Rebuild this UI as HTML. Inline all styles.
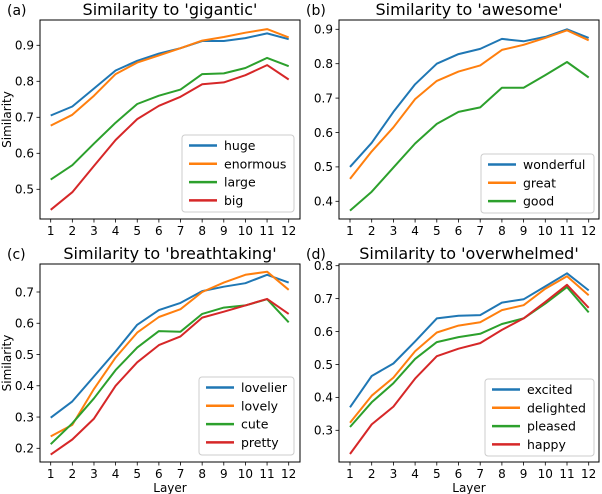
<!DOCTYPE html>
<html><head><meta charset="utf-8"><style>
body{margin:0;background:#fff;}
svg{display:block;font-family:"DejaVu Sans","Liberation Sans",sans-serif;}
</style></head><body>
<svg id="fig" width="602" height="494" viewBox="0 0 602 494" xmlns="http://www.w3.org/2000/svg"></svg>
<script>
const layers = [1,2,3,4,5,6,7,8,9,10,11,12];
const colors = ['#1f77b4','#ff7f0e','#2ca02c','#d62728'];
const namesA = ['huge','enormous','large','big'];
const hugeVals = [.705,.73,.78,.83,.857,.877,.892,.912,.912,.92,.933,.917];
const enormousVals = [.677,.707,.76,.82,.852,.872,.892,.913,.923,.935,.945,.922];
const largeVals = [.527,.567,.627,.685,.737,.76,.777,.82,.822,.837,.865,.842];
const bigVals = [.443,.492,.565,.637,.695,.732,.757,.792,.797,.817,.845,.805];
const ticksA = [0.5,0.6,0.7,0.8,0.9];
const namesB = ['wonderful','great','good'];
const wonderfulVals = [.5,.57,.66,.74,.8,.828,.843,.872,.865,.878,.9,.875];
const greatVals = [.465,.545,.615,.697,.75,.777,.795,.84,.855,.875,.897,.868];
const goodVals = [.373,.428,.498,.568,.625,.66,.673,.73,.73,.767,.805,.76];
const ticksB = [0.4,0.5,0.6,0.7,0.8,0.9];
const namesC = ['lovelier','lovely','cute','pretty'];
const lovelierVals = [.298,.35,.43,.51,.595,.642,.665,.703,.717,.728,.755,.73];
const lovelyVals = [.238,.275,.39,.49,.57,.62,.645,.70,.73,.755,.765,.707];
const cuteVals = [.213,.28,.36,.45,.522,.575,.573,.63,.65,.657,.677,.603];
const prettyVals = [.18,.228,.295,.4,.475,.53,.558,.618,.637,.657,.678,.63];
const ticksC = [0.2,0.3,0.4,0.5,0.6,0.7];
const namesD = ['excited','delighted','pleased','happy'];
const excitedVals = [.37,.465,.503,.57,.64,.648,.65,.688,.698,.737,.777,.725];
const delightedVals = [.323,.405,.46,.54,.597,.618,.628,.665,.68,.73,.768,.71];
const pleasedVals = [.31,.385,.443,.517,.568,.583,.593,.623,.64,.685,.735,.658];
const happyVals = [.228,.318,.372,.457,.525,.548,.565,.605,.64,.69,.742,.672];
const ticksD = [0.3,0.4,0.5,0.6,0.7,0.8];

const NS='http://www.w3.org/2000/svg';
const svg=document.getElementById('fig');
function mk(tag,attrs,parent,text){const e=document.createElementNS(NS,tag);for(const k in attrs)e.setAttribute(k,attrs[k]);if(text!==undefined)e.textContent=text;(parent||svg).appendChild(e);return e;}

const panels=[
 {id:'a',title:"Similarity to 'gigantic'",L:40,R:300,T:20,B:219,x1:50.7,x12:288.7,yv0:0.5,yp0:189.3,yv1:0.9,yp1:45.3,ticks:ticksA,names:namesA,series:[hugeVals,enormousVals,largeVals,bigVals],ylab:true,xlab:false,lg:[182,135,112,77]},
 {id:'b',title:"Similarity to 'awesome'",L:339,R:599,T:20,B:219,x1:350,x12:588.7,yv0:0.4,yp0:201.3,yv1:0.9,yp1:29.3,ticks:ticksB,names:namesB,series:[wonderfulVals,greatVals,goodVals],ylab:false,xlab:false,lg:[481,154,113,59]},
 {id:'c',title:"Similarity to 'breathtaking'",L:40,R:300,T:264,B:462,x1:50.7,x12:288.7,yv0:0.2,yp0:448.3,yv1:0.7,yp1:292,ticks:ticksC,names:namesC,series:[lovelierVals,lovelyVals,cuteVals,prettyVals],ylab:true,xlab:true,lg:[199,377,95,78]},
 {id:'d',title:"Similarity to 'overwhelmed'",L:339,R:599,T:264,B:462,x1:350,x12:588.7,yv0:0.3,yp0:430.3,yv1:0.8,yp1:265.7,ticks:ticksD,names:namesD,series:[excitedVals,delightedVals,pleasedVals,happyVals],ylab:false,xlab:true,lg:[485,379,109,77]}
];

panels.forEach(p=>{
 const g=mk('g',{});
 
 
 const xs=v=>p.x1+(v-1)*(p.x12-p.x1)/11;
 const ys=v=>p.yp0+(v-p.yv0)*(p.yp1-p.yp0)/(p.yv1-p.yv0);
 p.series.forEach((s,i)=>{
  const pts=s.map((v,j)=>xs(layers[j]).toFixed(1)+','+ys(v).toFixed(1)).join(' ');
  const l=mk('polyline',{points:pts,fill:'none',stroke:colors[i],'stroke-width':2,'stroke-linejoin':'round'},g);
  
  
 });
 const f=mk('rect',{x:p.L,y:p.T,width:p.R-p.L,height:p.B-p.T,fill:'none',stroke:'#000','stroke-width':1},g);
 
 
 layers.forEach(v=>{
  const x=xs(v);
  mk('line',{x1:x,x2:x,y1:p.B,y2:p.B+3.5,stroke:'#000','stroke-width':0.8},g);
  const t=mk('text',{x:x,y:p.B+16,'font-size':12,'text-anchor':'middle',fill:'#000'},g,String(v));
  
  
 });
 p.ticks.forEach(v=>{
  const y=ys(v);
  mk('line',{x1:p.L-3.5,x2:p.L,y1:y,y2:y,stroke:'#000','stroke-width':0.8},g);
  const t=mk('text',{x:p.L-6,y:y+4.3,'font-size':12,'text-anchor':'end',fill:'#000'},g,v.toFixed(1));
  
  
 });
 const tt=mk('text',{x:(p.L+p.R)/2,y:p.T-5,'font-size':16,'text-anchor':'middle',fill:'#000'},g,p.title);
 
 
 const pl=mk('text',{x:p.L-33,y:p.T-5,'font-size':14,fill:'#000'},g,'('+p.id+')');
 
 
 if(p.ylab){
  const cy=(p.T+p.B)/2;
  const yl=mk('text',{x:11,y:cy,'font-size':12,'text-anchor':'middle',transform:'rotate(-90 11 '+cy+')',fill:'#000'},g,'Similarity');
  
  
 }
 if(p.xlab){
  const xl=mk('text',{x:(p.L+p.R)/2,y:p.B+30,'font-size':12,'text-anchor':'middle',fill:'#000'},g,'Layer');
  
  
 }
 const [lx,ly,lw,lh]=p.lg;
 const lg=mk('g',{},g);
 
 
 mk('rect',{x:lx,y:ly,width:lw,height:lh,rx:3,fill:'#fff','fill-opacity':0.85,stroke:'#ccc','stroke-width':1},lg);
 p.names.forEach((n,i)=>{
  const y=ly+10.5+i*18.3;
  const e=mk('g',{},lg);
  
  
  mk('line',{x1:lx+7,x2:lx+35,y1:y,y2:y,stroke:colors[i],'stroke-width':2.5},e);
  mk('text',{x:lx+42,y:y+4.5,'font-size':12.5,fill:'#000'},e,n);
 });
});
</script>
</body></html>
